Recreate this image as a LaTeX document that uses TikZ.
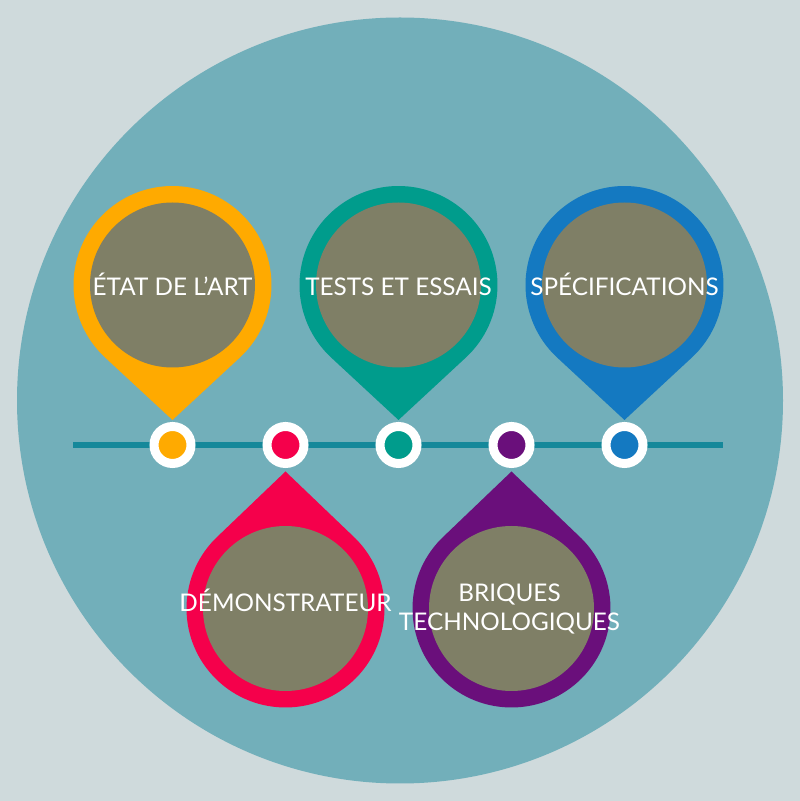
\documentclass[tikz,border=0pt]{standalone}
\usepackage{fontspec}
\setmainfont{Lato}
\definecolor{backgrey}{HTML}{CFDADC}
\definecolor{discteal}{HTML}{72AFBA}
\definecolor{railteal}{HTML}{15889A}
\definecolor{holegrey}{HTML}{7F7F66}
\definecolor{pinyellow}{HTML}{FFAA00}
\definecolor{pinred}{HTML}{F5004B}
\definecolor{pingreen}{HTML}{009C8C}
\definecolor{pinpurple}{HTML}{6A0F7B}
\definecolor{pinblue}{HTML}{1479C1}
\tikzset{hole/.style={fill=holegrey},
  rail/.style={draw=railteal,line width=6.3pt},
  dotring/.style={circle,draw=white,line width=9pt,minimum size=37pt,inner sep=0pt},
  pintext/.style={text=white,font=\fontsize{24.3}{29}\selectfont,align=center,anchor=base,inner sep=0pt}}

\begin{document}
\begin{tikzpicture}[x=1pt,y=1pt]
  \useasboundingbox (0,0) rectangle (800,801);
  \fill[backgrey] (0,0) rectangle (800,801);
  \fill[discteal] (400,400.5) circle (383);
  % timeline
  \coordinate (railL) at (73,356);
  \coordinate (railR) at (723,356);
  \draw[rail] (railL) -- (railR);
  % pins above the line
  \begin{scope}[shift={(172.5,516)}]
    \fill[pinyellow] (0,-135) -- (-47.2:99) arc[start angle=-47.2,end angle=227.2,radius=99] -- cycle;
    \fill[hole] (0,0) circle (82.5);
  \end{scope}
  \node[pintext] (etat) at (172.5,505) {ÉTAT DE L’ART};
  \begin{scope}[shift={(398.5,516)}]
    \fill[pingreen] (0,-135) -- (-47.2:99) arc[start angle=-47.2,end angle=227.2,radius=99] -- cycle;
    \fill[hole] (0,0) circle (82.5);
  \end{scope}
  \node[pintext] (tests) at (398.5,505) {TESTS ET ESSAIS};
  \begin{scope}[shift={(624.5,516)}]
    \fill[pinblue] (0,-135) -- (-47.2:99) arc[start angle=-47.2,end angle=227.2,radius=99] -- cycle;
    \fill[hole] (0,0) circle (82.5);
  \end{scope}
  \node[pintext] (specs) at (624.5,505) {SPÉCIFICATIONS};
  % pins below the line
  \begin{scope}[shift={(285.5,192.5)},rotate=180]
    \fill[pinred] (0,-137) -- (-47.2:99) arc[start angle=-47.2,end angle=227.2,radius=99] -- cycle;
    \fill[hole] (0,0) circle (82.5);
  \end{scope}
  \node[pintext] (demo) at (285.5,189) {DÉMONSTRATEUR};
  \begin{scope}[shift={(511.5,192.5)},rotate=180]
    \fill[pinpurple] (0,-137) -- (-47.2:99) arc[start angle=-47.2,end angle=227.2,radius=99] -- cycle;
    \fill[hole] (0,0) circle (82.5);
  \end{scope}
  \node[pintext] (briques) at (509.5,199.5) {BRIQUES};
  \node[pintext] (techno) at (509.5,170.5) {TECHNOLOGIQUES};
  % stops on the line
  \node[dotring,fill=pinyellow] (stop1) at (172.5,356) {};
  \node[dotring,fill=pinred] (stop2) at (285.5,356) {};
  \node[dotring,fill=pingreen] (stop3) at (398.5,356) {};
  \node[dotring,fill=pinpurple] (stop4) at (511.5,356) {};
  \node[dotring,fill=pinblue] (stop5) at (624.5,356) {};
\end{tikzpicture}
\end{document}
